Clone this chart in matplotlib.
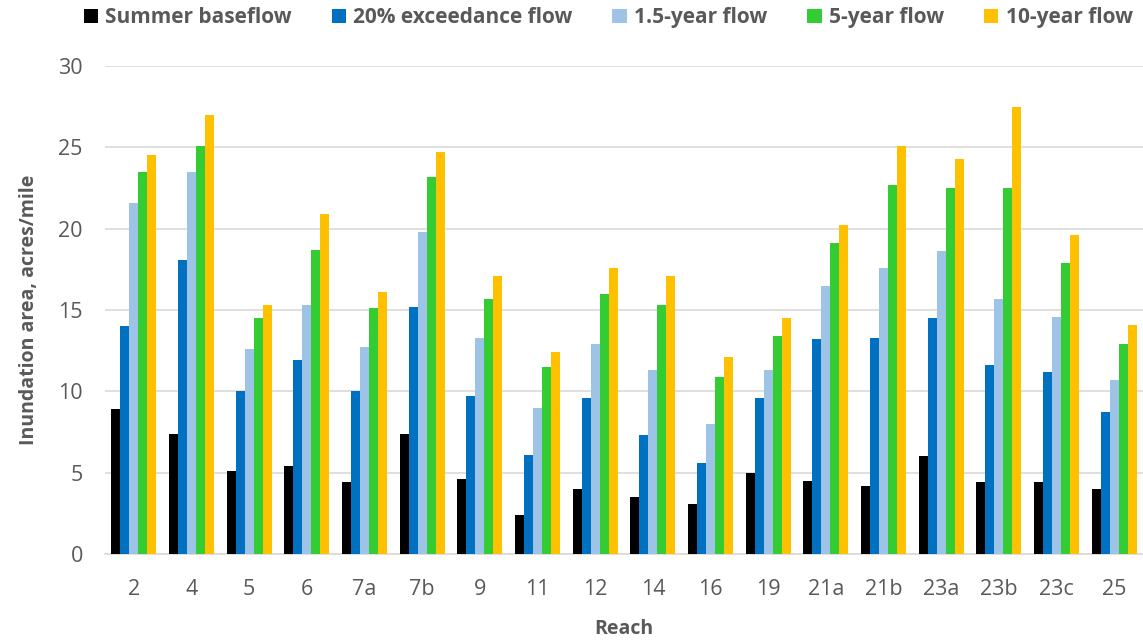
import matplotlib
matplotlib.use("Agg")
import matplotlib.pyplot as plt
import numpy as np

plt.rcParams['font.family'] = ['Open Sans', 'DejaVu Sans']

reaches = ["2", "4", "5", "6", "7a", "7b", "9", "11", "12", "14", "16", "19",
           "21a", "21b", "23a", "23b", "23c", "25"]
summer_baseflow = [8.9, 7.4, 5.1, 5.4, 4.4, 7.4, 4.6, 2.4, 4.0, 3.5, 3.1, 5.0,
                   4.5, 4.2, 6.0, 4.4, 4.4, 4.0]
exceedance_20 = [14.0, 18.1, 10.0, 11.9, 10.0, 15.2, 9.7, 6.1, 9.6, 7.3, 5.6, 9.6,
                 13.2, 13.3, 14.5, 11.6, 11.2, 8.7]
year_1_5 = [21.6, 23.5, 12.6, 15.3, 12.7, 19.8, 13.3, 9.0, 12.9, 11.3, 8.0, 11.3,
            16.5, 17.6, 18.6, 15.7, 14.6, 10.7]
year_5 = [23.5, 25.1, 14.5, 18.7, 15.1, 23.2, 15.7, 11.5, 16.0, 15.3, 10.9, 13.4,
          19.1, 22.7, 22.5, 22.5, 17.9, 12.9]
year_10 = [24.5, 27.0, 15.3, 20.9, 16.1, 24.7, 17.1, 12.4, 17.6, 17.1, 12.1, 14.5,
           20.2, 25.1, 24.3, 27.5, 19.6, 14.1]

series_names = ["Summer baseflow", "20% exceedance flow", "1.5-year flow",
                "5-year flow", "10-year flow"]
series = [summer_baseflow, exceedance_20, year_1_5, year_5, year_10]
colors = ["#000000", "#0070C0", "#9DC3E6", "#33CC33", "#FFC000"]

fig = plt.figure(figsize=(11.43, 6.41), dpi=100)
ax = fig.add_axes([105/1143, 1 - 554/641, 1 - 105/1143, (554 - 66)/641])

x = np.arange(len(reaches))
w = 0.156
for i, (name, vals, c) in enumerate(zip(series_names, series, colors)):
    ax.bar(x + (i - 2) * w, vals, width=w, color=c, label=name, zorder=3)

ax.set_xlim(-0.5, len(reaches) - 0.5)
ax.set_ylim(0, 30)
ax.set_yticks(range(0, 31, 5))
ax.set_xticks(x)
ax.set_xticklabels(reaches)
ax.grid(axis='y', color='#d9d9d9', linewidth=1.2, zorder=0)
for s in ['top', 'right', 'left']:
    ax.spines[s].set_visible(False)
ax.spines['bottom'].set_color('#d9d9d9')
ax.spines['bottom'].set_linewidth(1.2)
ax.tick_params(axis='both', length=0, labelsize=15.5, colors='#595959')
ax.tick_params(axis='y', pad=16)
ax.tick_params(axis='x', pad=18)

ax.set_ylabel("Inundation area, acres/mile", fontsize=14, fontweight='bold',
              color='#595959', labelpad=14)
ax.set_xlabel("Reach", fontsize=14, fontweight='bold', color='#595959', labelpad=14)

leg = fig.legend(loc='upper center', bbox_to_anchor=(0.532, 1.018), ncol=5,
                 frameon=False, handlelength=0.7, handleheight=0.7,
                 handletextpad=0.35, columnspacing=1.9,
                 prop={'weight': 'bold', 'size': 15})
for t in leg.get_texts():
    t.set_color('#595959')

fig.savefig("out.png", dpi=100)
